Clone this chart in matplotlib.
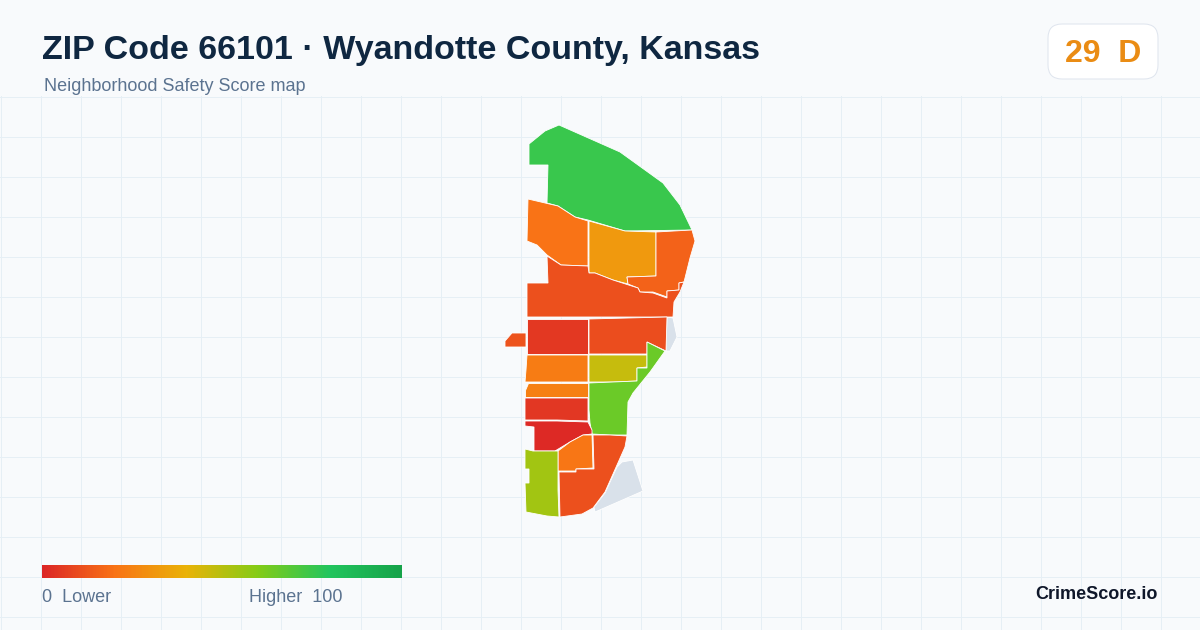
import matplotlib
matplotlib.use('Agg')
import matplotlib.pyplot as plt
import numpy as np
from matplotlib.colors import LinearSegmentedColormap
from matplotlib.patches import FancyBboxPatch, Polygon

plt.rcParams['font.family'] = ['Liberation Sans', 'DejaVu Sans']

title = 'ZIP Code 66101 · Wyandotte County, Kansas'
subtitle = 'Neighborhood Safety Score map'
badge_score = 29
badge_grade = 'D'
legend_low = '0  Lower'
legend_high = 'Higher  100'
brand = 'CrimeScore.io'

stop_pos = [0, 0.2, 0.4, 0.6, 0.8, 1]
stop_colors = ['#dc2626', '#f97316', '#eab308', '#84cc16', '#22c55e', '#16a34a']

# tract outlines, traced in image pixels
north = [(529, 144), (545, 131), (559, 125), (620, 152), (663, 183), (680, 205), (692, 230), (625, 231), (588, 220), (575, 217), (558, 206), (547, 203), (548, 165), (529, 165)]
northwest = [(528, 199), (558, 206), (575, 217), (588, 221), (588, 266), (561, 265), (547, 255), (537, 245), (527, 241)]
amber = [(589, 221), (625, 231), (656, 232), (656, 276), (627, 277), (628, 284), (613, 280), (595, 273), (589, 273)]
northeast = [(656, 232), (692, 230), (695, 241), (690, 258), (684, 282), (679, 283), (679, 290), (667, 291), (667, 297), (653, 292), (640, 292), (638, 288), (628, 284), (627, 277), (656, 276)]
band = [(547, 256), (561, 265), (588, 266), (589, 273), (595, 273), (613, 280), (638, 288), (640, 292), (653, 293), (667, 298), (667, 291), (679, 290), (679, 283), (684, 282), (680, 292), (674, 302), (673, 317), (527, 317), (527, 283), (548, 283)]
west_piece = [(505, 341), (512, 333), (526, 333), (526, 347), (505, 347)]
red_a = [(527, 319), (588, 319), (588, 354), (527, 354)]
red_b = [(589, 319), (667, 317), (666, 351), (647, 342), (647, 354), (589, 354)]
grey_east = [(667, 317), (673, 318), (677, 337), (670, 351), (666, 351)]
orange_a = [(527, 355), (588, 355), (588, 382), (525, 382), (526, 370)]
yellow = [(589, 355), (647, 355), (647, 367), (637, 368), (637, 381), (613, 382), (589, 382)]
lime = [(589, 383), (637, 381), (637, 368), (647, 368), (647, 342), (665, 351), (650, 372), (633, 393), (628, 402), (627, 435), (610, 435), (592, 434), (590, 423), (589, 410)]
orange_b = [(528, 383), (588, 383), (588, 397), (525, 397), (525, 390)]
red_c = [(525, 398), (588, 398), (588, 421), (557, 420), (525, 420)]
red_deep = [(525, 421), (557, 421), (588, 422), (592, 430), (592, 434), (583, 435), (570, 442), (555, 451), (534, 451), (534, 427), (525, 426)]
orange_c = [(558, 451), (570, 442), (583, 435), (592, 435), (593, 468), (576, 469), (576, 471), (558, 471)]
south = [(593, 435), (610, 435), (627, 436), (625, 447), (617, 465), (605, 492), (593, 508), (582, 514), (560, 517), (559, 472), (576, 472), (576, 469), (594, 469)]
southwest = [(525, 449), (533, 451), (558, 451), (558, 490), (559, 517), (547, 516), (526, 512), (525, 483), (529, 483), (529, 469), (525, 469)]
grey_south = [(622, 462), (633, 460), (643, 491), (595, 512), (594, 507), (605, 493), (617, 467)]

tracts = [north, northwest, amber, northeast, band, west_piece, red_a, red_b, orange_a, yellow, lime, orange_b, red_c, red_deep, orange_c, south, southwest]
scores = [75, 20, 32, 16, 11, 12, 5, 10.5, 23, 47, 65, 24, 4.5, 1, 21, 11, 54]
no_data = [grey_east, grey_south]

cmap = LinearSegmentedColormap.from_list('score', list(zip(stop_pos, stop_colors)))

fig = plt.figure(figsize=(12, 6.3), dpi=100, facecolor='#f8fafc')
ax = fig.add_axes([0, 0, 1, 1])
ax.set_xlim(0, 1200)
ax.set_ylim(630, 0)
ax.axis('off')

# background grid
for x in range(0, 1201, 40):
    ax.plot([x + 0.5, x + 0.5], [96, 630], color='#e6eff5', lw=0.72, zorder=1)
for y in range(96, 630, 40):
    ax.plot([0, 1200], [y + 0.5, y + 0.5], color='#e6eff5', lw=0.72, zorder=1)

for pts in no_data:
    ax.add_patch(Polygon(pts, closed=True, facecolor='#d9e1ea', edgecolor='white', lw=0.6, zorder=2))
for pts, score in zip(tracts, scores):
    ax.add_patch(Polygon(pts, closed=True, facecolor=cmap(score / 100), edgecolor='white', lw=0.6, zorder=3))

ax.text(42, 59.5, title, fontsize=24.5, fontweight='bold', color='#0f2741', va='baseline', ha='left')
ax.text(44, 91, subtitle, fontsize=12.96, color='#5b7390', va='baseline', ha='left')

badge = FancyBboxPatch((1062, 38), 82, 27, boxstyle='round,pad=14,rounding_size=14',
                       facecolor='white', edgecolor='#dfe5ee', lw=0.72, zorder=4)
ax.add_patch(badge)
ax.text(1103, 61.7, f'{badge_score}  {badge_grade}', fontsize=23, fontweight='bold', color='#ea8c14', va='baseline', ha='center', zorder=5)

# legend ramp
ramp = np.linspace(0, 1, 360).reshape(1, -1)
ax.imshow(ramp, cmap=cmap, extent=(42, 402, 578, 565), aspect='auto', zorder=4)
ax.set_xlim(0, 1200)
ax.set_ylim(630, 0)
ax.text(42, 602.5, legend_low, fontsize=12.96, color='#5b7390', va='baseline', ha='left')
ax.text(249, 602.5, legend_high, fontsize=12.96, color='#5b7390', va='baseline', ha='left')
ax.text(1158, 599, brand, fontsize=13, fontweight='bold', color='#0f172a', va='baseline', ha='right')

fig.savefig('out.png', dpi=100, facecolor=fig.get_facecolor())
